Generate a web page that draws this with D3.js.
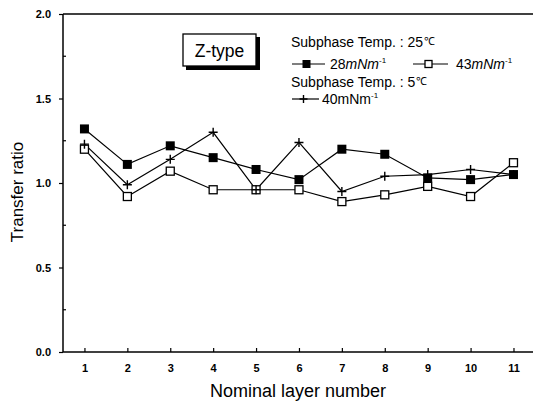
<!DOCTYPE html>
<html>
<head>
<meta charset="utf-8">
<script src="https://cdn.jsdelivr.net/npm/d3@7"></script>
<style>
  html, body { margin: 0; padding: 0; background: #fff; }
  svg { display: block; font-family: "Liberation Sans", Arial, sans-serif; }
</style>
</head>
<body>
<svg id="chart" width="534" height="401"></svg>
<script>
// Nominal layer numbers on the x axis
const layers = [1, 2, 3, 4, 5, 6, 7, 8, 9, 10, 11];
// Transfer ratios, subphase 25 °C at 28 mN/m (filled squares)
const ratio25at28 = [1.32, 1.11, 1.22, 1.15, 1.08, 1.02, 1.20, 1.17, 1.03, 1.02, 1.05];
// Transfer ratios, subphase 25 °C at 43 mN/m (open squares)
const ratio25at43 = [1.20, 0.92, 1.07, 0.96, 0.96, 0.96, 0.89, 0.93, 0.98, 0.92, 1.12];
// Transfer ratios, subphase 5 °C at 40 mN/m (plus signs)
const ratio5at40 = [1.23, 0.99, 1.14, 1.30, 0.96, 1.24, 0.95, 1.04, 1.05, 1.08, 1.05];
// Axis tick values
const yTicks = [0.0, 0.5, 1.0, 1.5, 2.0];
const yMinorTicks = [0.25, 0.75, 1.25, 1.75];

const svg = d3.select("#chart");
const plotLeft = 63, plotRight = 533, plotTop = 14, plotBottom = 352;

const x = d3.scaleLinear().domain([0.5, 11.455]).range([plotLeft, plotRight]);
const y = d3.scaleLinear().domain([0, 2]).range([plotBottom, plotTop]);

const ink = "#000";

// frame: top line, left axis, bottom axis
svg.append("line").attr("x1", plotLeft).attr("x2", plotRight).attr("y1", plotTop).attr("y2", plotTop)
  .attr("stroke", ink).attr("stroke-width", 1.5);

const yAxis = svg.append("g").attr("transform", `translate(${plotLeft},0)`)
  .call(d3.axisLeft(y).tickValues(yTicks).tickFormat(d3.format(".1f")).tickSize(4).tickPadding(8));
const xAxis = svg.append("g").attr("transform", `translate(0,${plotBottom})`)
  .call(d3.axisBottom(x).tickValues(layers).tickFormat(d3.format("d")).tickSize(-4).tickPadding(12));

[yAxis, xAxis].forEach(g => {
  g.select(".domain").attr("stroke", ink).attr("stroke-width", 1.5);
  g.selectAll(".tick line").attr("stroke", ink).attr("stroke-width", 1.2);
  g.selectAll(".tick text").attr("fill", ink).attr("font-size", 11).attr("font-weight", "bold")
    .attr("font-family", "'Liberation Sans', Arial, sans-serif");
});
xAxis.select(".domain").attr("d", `M${plotLeft},0H${plotRight}`);
yAxis.select(".domain").attr("d", `M0,${plotBottom}V${plotTop}`);

// minor y ticks pointing inward
svg.append("g").selectAll("line").data(yMinorTicks).join("line")
  .attr("x1", plotLeft).attr("x2", plotLeft + 3)
  .attr("y1", d => y(d)).attr("y2", d => y(d))
  .attr("stroke", ink).attr("stroke-width", 1.2);

// axis titles
svg.append("text").attr("x", 298).attr("y", 397).attr("text-anchor", "middle")
  .attr("font-size", 18).attr("fill", ink).text("Nominal layer number");
svg.append("text").attr("transform", "translate(23,192) rotate(-90)").attr("text-anchor", "middle")
  .attr("font-size", 17).attr("fill", ink).text("Transfer ratio");

// series
const series = [
  { values: ratio25at28, marker: "filled" },
  { values: ratio25at43, marker: "open" },
  { values: ratio5at40, marker: "plus" }
];
const line = d3.line().x((d, i) => x(layers[i])).y(d => y(d));

const plot = svg.append("g");
series.forEach(s => {
  plot.append("path").datum(s.values).attr("d", line)
    .attr("fill", "none").attr("stroke", ink).attr("stroke-width", 1.2);
});

function drawMarker(g, kind, cx, cy, size = 9) {
  const h = size / 2;
  if (kind === "filled") {
    g.append("rect").attr("x", cx - h).attr("y", cy - h).attr("width", size).attr("height", size)
      .attr("fill", ink);
  } else if (kind === "open") {
    g.append("rect").attr("x", cx - h + 0.5).attr("y", cy - h + 0.5).attr("width", size - 1).attr("height", size - 1)
      .attr("fill", "#fff").attr("stroke", ink).attr("stroke-width", 1.3);
  } else {
    g.append("path").attr("d", `M${cx - h},${cy}H${cx + h}M${cx},${cy - h}V${cy + h}`)
      .attr("stroke", ink).attr("stroke-width", 1.4);
  }
}

series.forEach(s => {
  const g = plot.append("g");
  s.values.forEach((v, i) => drawMarker(g, s.marker, x(layers[i]), y(v)));
});

// "Z-type" label box with drop shadow
const box = svg.append("g");
box.append("rect").attr("x", 186).attr("y", 37).attr("width", 74).attr("height", 33).attr("fill", ink);
box.append("rect").attr("x", 183).attr("y", 34).attr("width", 73).attr("height", 32)
  .attr("fill", "#fff").attr("stroke", ink).attr("stroke-width", 1.3);
box.append("text").attr("x", 219.5).attr("y", 56.5).attr("text-anchor", "middle")
  .attr("font-size", 17.5).attr("fill", ink).text("Z-type");

// legend
const legend = svg.append("g").attr("font-size", 14).attr("fill", ink);
function heading(yy, temp) {
  const t = legend.append("text").attr("x", 291).attr("y", yy).text(`Subphase Temp. : ${temp}`);
  t.append("tspan").attr("dx", 1).attr("dy", -2).attr("font-size", 11).text("\u2103");
}
heading(47, "25");
heading(87, "5");

function legendEntry(x0, yy, x1, kind, num, italic, tx) {
  legend.append("line").attr("x1", x0).attr("x2", x1).attr("y1", yy).attr("y2", yy)
    .attr("stroke", ink).attr("stroke-width", 1.2);
  drawMarker(legend, kind, (x0 + x1) / 2 - 2, yy, 8);
  const t = legend.append("text").attr("x", tx).attr("y", yy + 5);
  t.append("tspan").text(num);
  t.append("tspan").attr("font-style", italic ? "italic" : "normal").text("mNm");
  t.append("tspan").attr("dy", -6).attr("font-size", 8).text("-1");
}
legendEntry(292, 64, 325, "filled", "28", true, 330);
legendEntry(413, 64, 448, "open", "43", true, 456);
legendEntry(292, 99, 319, "plus", "40", false, 322);
</script>
</body>
</html>
